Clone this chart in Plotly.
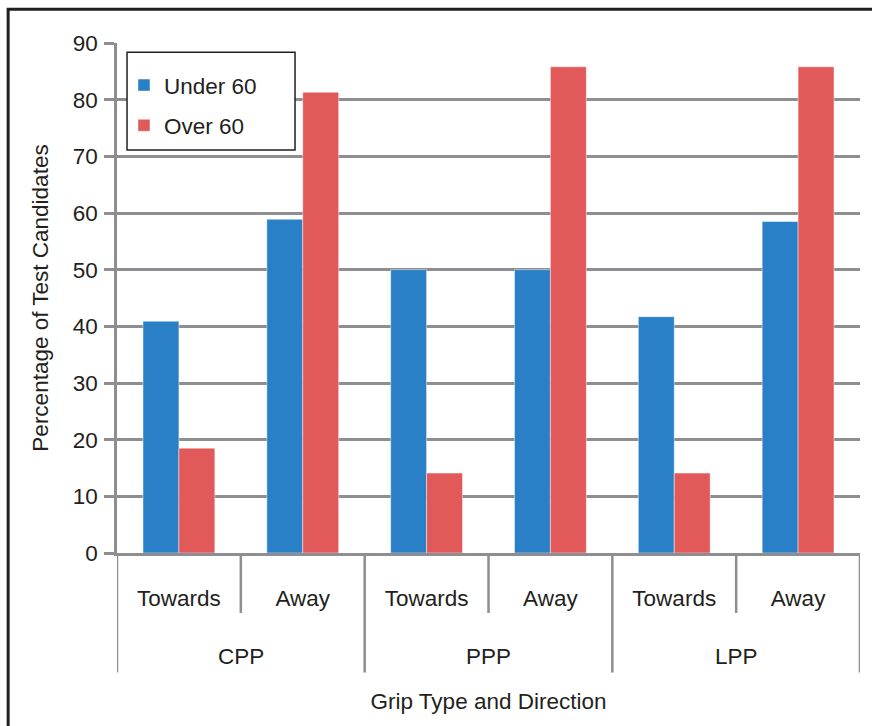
import plotly.graph_objects as go

grip_types = ["CPP", "PPP", "LPP"]
directions = ["Towards", "Away", "Towards", "Away", "Towards", "Away"]
group_of = [0, 0, 1, 1, 2, 2]
under_60 = [40.9, 58.9, 50.0, 50.0, 41.7, 58.5]
over_60 = [18.5, 81.3, 14.1, 85.8, 14.1, 85.8]

BLUE = "#2a80c6"
RED = "#e15959"
GRID = "#8e8e92"
TEXT = "#231f20"
FONT = "Liberation Sans, Arial, sans-serif"
FS = 22.5

xpos = list(range(len(directions)))

fig = go.Figure()
fig.add_trace(go.Bar(x=xpos, y=under_60, name="Under 60",
                     marker=dict(color=BLUE, line=dict(color="rgba(255,255,255,0.45)", width=1)),
                     legendgroup="a"))
fig.add_trace(go.Bar(x=xpos, y=over_60, name="Over 60",
                     marker=dict(color=RED, line=dict(color="rgba(255,255,255,0.45)", width=1)),
                     legendgroup="b"))

shapes = []
annotations = []
# divider lines: short between directions, long between grip types (and at the ends)
for b in range(len(directions) + 1):
    xb = b - 0.5
    is_outer = b == 0 or b == len(directions) or group_of[b - 1] != group_of[b]
    shapes.append(dict(type="line", xref="x", yref="paper",
                       x0=xb, x1=xb, y0=0, y1=-0.2344 if is_outer else -0.1175,
                       line=dict(color=GRID, width=2.5), layer="above"))
# outer category labels
for g, name in enumerate(grip_types):
    members = [i for i in xpos if group_of[i] == g]
    annotations.append(dict(text=name, xref="x", yref="paper",
                            x=sum(members) / len(members), y=-0.203,
                            xanchor="center", yanchor="middle", showarrow=False,
                            font=dict(size=FS, color=TEXT, family=FONT)))
# legend frame
shapes.append(dict(type="rect", xref="paper", yref="paper",
                   x0=0.0135, x1=0.2396, y0=0.790, y1=0.982,
                   line=dict(color=TEXT, width=1.5), fillcolor="white", layer="above"))
# outer figure frame (left and top edges visible, right/bottom beyond the canvas)
shapes.append(dict(type="path", xref="paper", yref="paper",
                   path="M -0.1465,-0.5 L -0.1465,1.066 L 1.3,1.066",
                   line=dict(color=TEXT, width=3), layer="above"))

fig.update_layout(
    width=872, height=726,
    margin=dict(l=117, r=12, t=43, b=173),
    paper_bgcolor="white", plot_bgcolor="white",
    font=dict(family=FONT, size=FS, color=TEXT),
    barmode="group", bargap=0.42, bargroupgap=0,
    showlegend=True,
    legend=dict(x=0.0094, y=0.959, xanchor="left", yanchor="top",
                bgcolor="rgba(0,0,0,0)", borderwidth=0,
                font=dict(size=FS, color=TEXT), tracegroupgap=8,
                traceorder="grouped"),
    shapes=shapes,
    annotations=annotations,
    xaxis=dict(range=[-0.5, len(directions) - 0.5], tickvals=xpos, ticktext=directions,
               showline=True, linecolor=GRID, linewidth=2.5, automargin=False,
               ticks="", showgrid=False, zeroline=False, ticklabelstandoff=23,
               tickfont=dict(size=FS, color=TEXT),
               title=dict(text="Grip Type and Direction", font=dict(size=FS, color=TEXT), standoff=84)),
    yaxis=dict(range=[0, 90], dtick=10, showline=True, linecolor=GRID, linewidth=2.5,
               automargin=False,
               ticks="outside", ticklen=10, tickwidth=2.5, tickcolor=GRID,
               ticklabelstandoff=2,
               showgrid=True, gridcolor=GRID, gridwidth=2.5, zeroline=False,
               tickfont=dict(size=FS, color=TEXT),
               title=dict(text="Percentage of Test Candidates", font=dict(size=FS, color=TEXT), standoff=18)),
)

fig.write_html("out.html", config={"displayModeBar": False},
               post_script="document.body.style.margin='0';"
                           "document.body.style.overflow='hidden';"
                           "document.documentElement.style.overflow='hidden';")
